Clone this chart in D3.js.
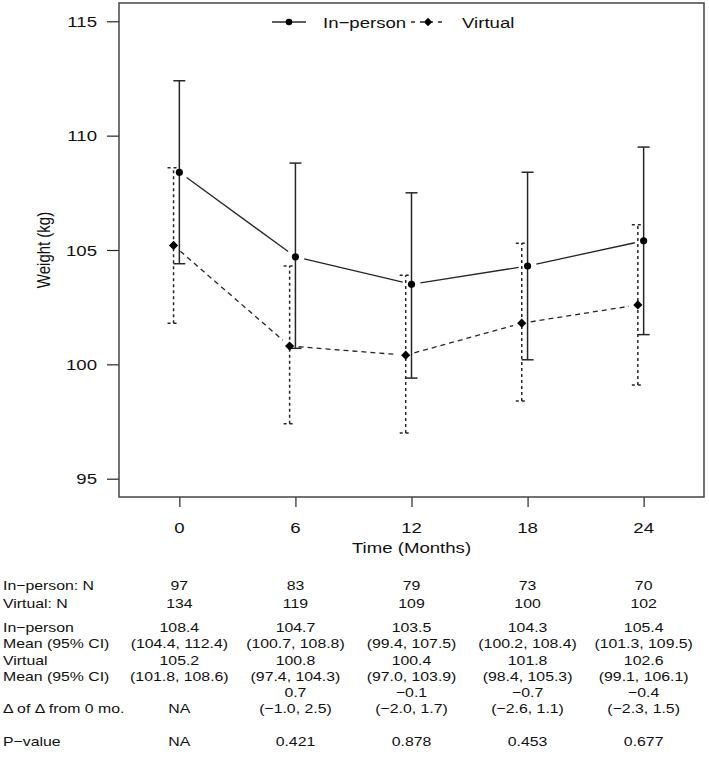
<!DOCTYPE html>
<html>
<head>
<meta charset="utf-8">
<script src="https://cdn.jsdelivr.net/npm/d3@7"></script>
<style>
  html, body { margin: 0; padding: 0; background: #fff; }
  svg { display: block; }
  text { font-family: "Liberation Sans", Arial, Helvetica, sans-serif; fill: #111; }
</style>
</head>
<body>
<div id="chart"></div>
<script>
// ---------------- data ----------------
const months = [0, 6, 12, 18, 24];
const inPersonMean = [108.4, 104.7, 103.5, 104.3, 105.4];
const inPersonLo   = [104.4, 100.7, 99.4, 100.2, 101.3];
const inPersonHi   = [112.4, 108.8, 107.5, 108.4, 109.5];
const virtualMean  = [105.2, 100.8, 100.4, 101.8, 102.6];
const virtualLo    = [101.8, 97.4, 97.0, 98.4, 99.1];
const virtualHi    = [108.6, 104.3, 103.9, 105.3, 106.1];
const yTicks = [95, 100, 105, 110, 115];
const seriesNames = ["In\u2212person", "Virtual"];

const inPersonN = ["97", "83", "79", "73", "70"];
const virtualN  = ["134", "119", "109", "100", "102"];
const inPersonMeanTxt = ["108.4", "104.7", "103.5", "104.3", "105.4"];
const inPersonCITxt = ["(104.4, 112.4)", "(100.7, 108.8)", "(99.4, 107.5)", "(100.2, 108.4)", "(101.3, 109.5)"];
const virtualMeanTxt = ["105.2", "100.8", "100.4", "101.8", "102.6"];
const virtualCITxt = ["(101.8, 108.6)", "(97.4, 104.3)", "(97.0, 103.9)", "(98.4, 105.3)", "(99.1, 106.1)"];
const deltaTxt = ["", "0.7", "\u22120.1", "\u22120.7", "\u22120.4"];
const deltaCITxt = ["NA", "(\u22121.0, 2.5)", "(\u22122.0, 1.7)", "(\u22122.6, 1.1)", "(\u22122.3, 1.5)"];
const pValueTxt = ["NA", "0.421", "0.878", "0.453", "0.677"];

// ---------------- layout ----------------
const W = 709, H = 765;
const SX = 1.2;           // horizontal stretch of the reference image's text
const box = { l: 119, t: 3, r: 704, b: 497 };
const virtualOffset = -0.3;

const x = d3.scaleLinear().domain([-3.12, 27.12]).range([box.l, box.r]);
const y = d3.scaleLinear().domain([94.2, 115.8]).range([box.b, box.t]);

const svg = d3.select("#chart").append("svg").attr("width", W).attr("height", H);

function txt(g, px, py, s, anchor, fs) {
  return g.append("text")
    .attr("transform", `translate(${px},${py}) scale(${SX},1)`)
    .attr("text-anchor", anchor || "start")
    .attr("dy", "0.36em")
    .style("font-size", (fs || 15) + "px")
    .text(s);
}

const ink = "#262626";

// axes via d3
const yAxis = d3.axisLeft(y).tickValues(yTicks).tickSize(12).tickFormat(d3.format("d"));
const gy = svg.append("g").attr("transform", `translate(${box.l},0)`).call(yAxis);
gy.select(".domain").remove();
gy.selectAll(".tick line").attr("stroke", ink).attr("stroke-width", 1.2);
gy.selectAll(".tick text").remove();
yTicks.forEach(v => txt(svg, 97, y(v), String(v), "end", 15.5));

const xAxis = d3.axisBottom(x).tickValues(months).tickSize(10);
const gx = svg.append("g").attr("transform", `translate(0,${box.b})`).call(xAxis);
gx.select(".domain").remove();
gx.selectAll(".tick line").attr("stroke", ink).attr("stroke-width", 1.2);
gx.selectAll(".tick text").remove();
months.forEach(m => txt(svg, x(m), 527, String(m), "middle", 15.5));

// box
svg.append("rect").attr("x", box.l).attr("y", box.t)
  .attr("width", box.r - box.l).attr("height", box.b - box.t)
  .attr("fill", "none").attr("stroke", "#444").attr("stroke-width", 1.5);

// axis titles
txt(svg, (box.l + box.r) / 2, 547, "Time (Months)", "middle", 15.5);
svg.append("text")
  .attr("transform", `translate(44,250) rotate(-90) scale(1,${SX})`)
  .attr("text-anchor", "middle").attr("dy", "0.36em")
  .style("font-size", "15px").text("Weight (kg)");

// series
const series = [
  { mean: inPersonMean, lo: inPersonLo, hi: inPersonHi, off: 0, lineDash: null, barDash: null, shape: "circle" },
  { mean: virtualMean, lo: virtualLo, hi: virtualHi, off: virtualOffset, lineDash: "5,4", barDash: "3,3", shape: "diamond" }
];

const gap = 9;
series.forEach(s => {
  const g = svg.append("g");
  const pts = months.map((m, i) => [x(m + s.off), y(s.mean[i])]);
  // connecting segments with gaps (type = "b")
  for (let i = 0; i < pts.length - 1; i++) {
    const [x0, y0] = pts[i], [x1, y1] = pts[i + 1];
    const len = Math.hypot(x1 - x0, y1 - y0);
    const ux = (x1 - x0) / len, uy = (y1 - y0) / len;
    g.append("line")
      .attr("x1", x0 + ux * gap).attr("y1", y0 + uy * gap)
      .attr("x2", x1 - ux * gap).attr("y2", y1 - uy * gap)
      .attr("stroke", ink).attr("stroke-width", 1.3)
      .attr("stroke-dasharray", s.lineDash);
  }
  // error bars
  months.forEach((m, i) => {
    const cx = x(m + s.off);
    g.append("line").attr("x1", cx).attr("x2", cx)
      .attr("y1", y(s.lo[i])).attr("y2", y(s.hi[i]))
      .attr("stroke", ink).attr("stroke-width", 1.5).attr("stroke-dasharray", s.barDash);
    [s.lo[i], s.hi[i]].forEach(v => {
      g.append("line").attr("x1", cx - 6).attr("x2", cx + 6)
        .attr("y1", y(v)).attr("y2", y(v))
        .attr("stroke", ink).attr("stroke-width", 1.5).attr("stroke-dasharray", s.barDash);
    });
  });
  // points
  pts.forEach(([px, py]) => {
    if (s.shape === "circle") {
      g.append("circle").attr("cx", px).attr("cy", py).attr("r", 3.6).attr("fill", "#000");
    } else {
      g.append("path").attr("d", `M${px},${py - 4.6}L${px + 4.6},${py}L${px},${py + 4.6}L${px - 4.6},${py}Z`).attr("fill", "#000");
    }
  });
});

// legend
const leg = svg.append("g");
const legY = 22;
leg.append("line").attr("x1", 272).attr("x2", 306).attr("y1", legY).attr("y2", legY)
  .attr("stroke", ink).attr("stroke-width", 1.3);
leg.append("circle").attr("cx", 289).attr("cy", legY).attr("r", 3.3).attr("fill", "#000");
txt(leg, 323, legY, seriesNames[0], "start", 15.5);
leg.append("line").attr("x1", 411).attr("x2", 445).attr("y1", legY).attr("y2", legY)
  .attr("stroke", ink).attr("stroke-width", 1.3).attr("stroke-dasharray", "4,5").attr("stroke-dashoffset", 0);
leg.append("path").attr("d", `M428,${legY - 4.2}L432.2,${legY}L428,${legY + 4.2}L423.8,${legY}Z`).attr("fill", "#000");
txt(leg, 462, legY, seriesNames[1], "start", 15.5);

// table
const tb = svg.append("g");
const tfs = 13.2;
const rowLabels = [
  ["In\u2212person: N", 585],
  ["Virtual: N", 603],
  ["In\u2212person", 627],
  ["Mean (95% CI)", 643],
  ["Virtual", 660],
  ["Mean (95% CI)", 676],
  ["\u0394 of \u0394 from 0 mo.", 708],
  ["P\u2212value", 741]
];
rowLabels.forEach(([s, ry]) => txt(tb, 3, ry, s, "start", tfs));
const rowValues = [
  [inPersonN, 585], [virtualN, 603],
  [inPersonMeanTxt, 627], [inPersonCITxt, 643],
  [virtualMeanTxt, 660], [virtualCITxt, 676],
  [deltaTxt, 692], [deltaCITxt, 708],
  [pValueTxt, 741]
];
rowValues.forEach(([vals, ry]) => {
  vals.forEach((v, i) => { if (v) txt(tb, x(months[i]), ry, v, "middle", tfs); });
});
</script>
</body>
</html>
